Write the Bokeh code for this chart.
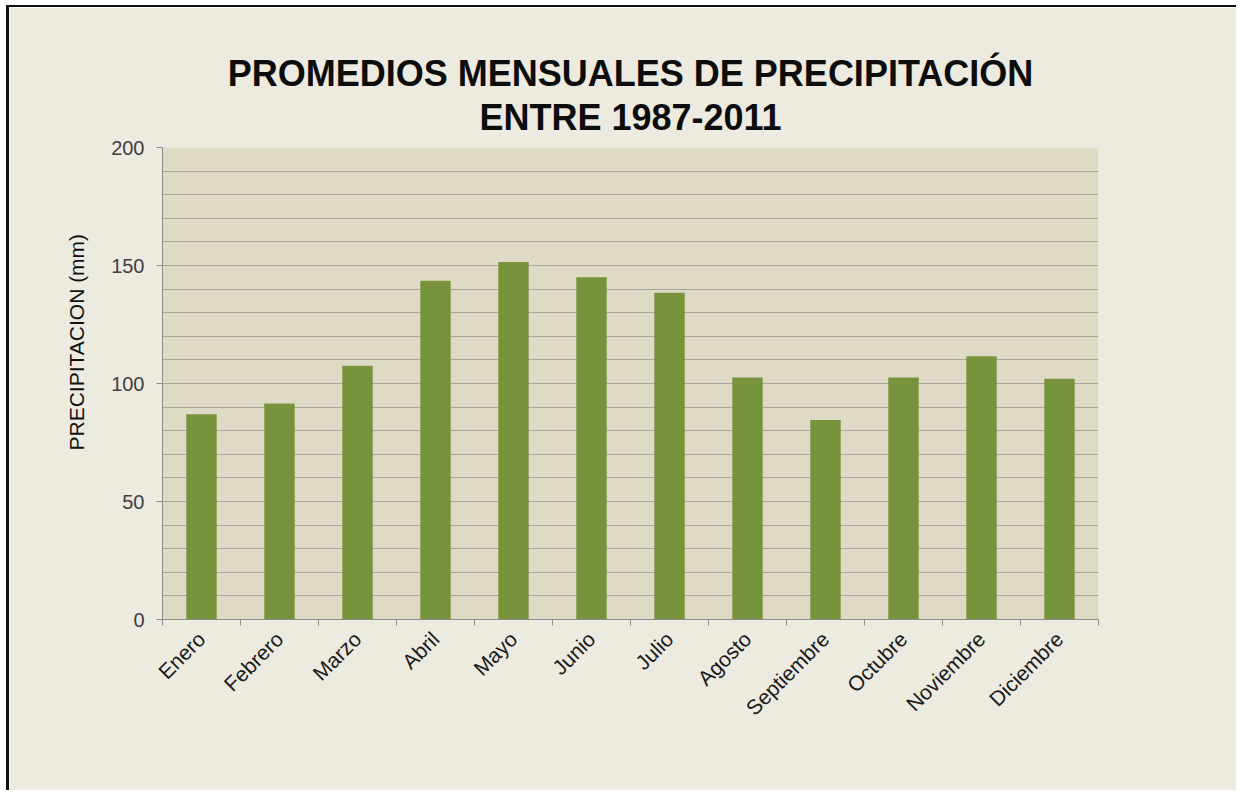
from bokeh.plotting import figure
from bokeh.models import FixedTicker, Range1d, Title
from bokeh.embed import file_html
from bokeh.resources import INLINE
from math import pi

months = ["Enero", "Febrero", "Marzo", "Abril", "Mayo", "Junio", "Julio",
          "Agosto", "Septiembre", "Octubre", "Noviembre", "Diciembre"]
precip = [87, 91.5, 107.5, 143.5, 151.5, 145, 138.5, 102.5, 84.5, 102.5, 111.5, 102]
title_lines = ["PROMEDIOS MENSUALES DE PRECIPITACIÓN", "ENTRE 1987-2011"]
y_label = "PRECIPITACION (mm)"
y_ticks = [0, 50, 100, 150, 200]

xs = [i + 0.5 for i in range(len(months))]

p = figure(width=1230, height=785, output_backend="svg", toolbar_location=None,
           x_range=Range1d(0, 12), y_range=Range1d(0, 200),
           min_border_left=153, min_border_right=141, min_border_top=140,
           min_border_bottom=173)
p.styles = {"margin-left": "6px", "margin-top": "5px",
            "border-top": "2px solid #111111", "border-left": "3px solid #111111"}

p.background_fill_color = "#DFDAC5"
p.border_fill_color = "#EDEAE0"
p.outline_line_color = None

p.vbar(x=xs, top=precip, width=0.39, bottom=0, fill_color="#77933C", line_color=None)

# grid
p.xgrid.grid_line_color = None
p.ygrid.ticker = FixedTicker(ticks=list(range(0, 201, 10)))
p.ygrid.grid_line_color = "#ABA79C"
p.ygrid.grid_line_width = 1

# y axis
p.yaxis.ticker = FixedTicker(ticks=y_ticks)
p.yaxis.major_label_text_font = "Liberation Sans"
p.yaxis.major_label_text_font_size = "20px"
p.yaxis.major_label_text_color = "#404040"
p.yaxis.major_label_standoff = 12
p.yaxis.major_tick_out = 6
p.yaxis.major_tick_in = 0
p.yaxis.minor_tick_line_color = None
p.yaxis.axis_line_color = "#8C8C8C"
p.yaxis.major_tick_line_color = "#8C8C8C"

# y axis title (placed with an offset as in the original)
p.add_layout(Title(text=y_label, align="left", offset=169, standoff=42,
                   text_font="Liberation Sans", text_font_style="normal",
                   text_font_size="21px", text_color="#111111"), "left")

# x axis: labels at centers, ticks at boundaries
p.xaxis.ticker = FixedTicker(ticks=xs, minor_ticks=list(range(0, 13)))
p.xaxis.major_label_overrides = {x: m for x, m in zip(xs, months)}
p.xaxis.major_label_orientation = pi / 4
p.xaxis.major_label_text_font = "Liberation Sans"
p.xaxis.major_label_text_font_size = "21px"
p.xaxis.major_label_text_color = "#1A1A1A"
p.xaxis.major_label_standoff = 10
p.xaxis.major_tick_line_color = None
p.xaxis.minor_tick_line_color = "#8C8C8C"
p.xaxis.minor_tick_out = 6
p.xaxis.minor_tick_in = 0
p.xaxis.axis_line_color = "#8C8C8C"

# two-line title (last added is outermost)
p.add_layout(Title(text=title_lines[1], align="center", standoff=20,
                   text_font="Liberation Sans", text_font_style="bold",
                   text_font_size="36px", text_color="#0D0D0D"), "above")
p.add_layout(Title(text=title_lines[0], align="center", standoff=-18,
                   text_font="Liberation Sans", text_font_style="bold",
                   text_font_size="36px", text_color="#0D0D0D"), "above")

open("out.html", "w").write(file_html(p, INLINE))
